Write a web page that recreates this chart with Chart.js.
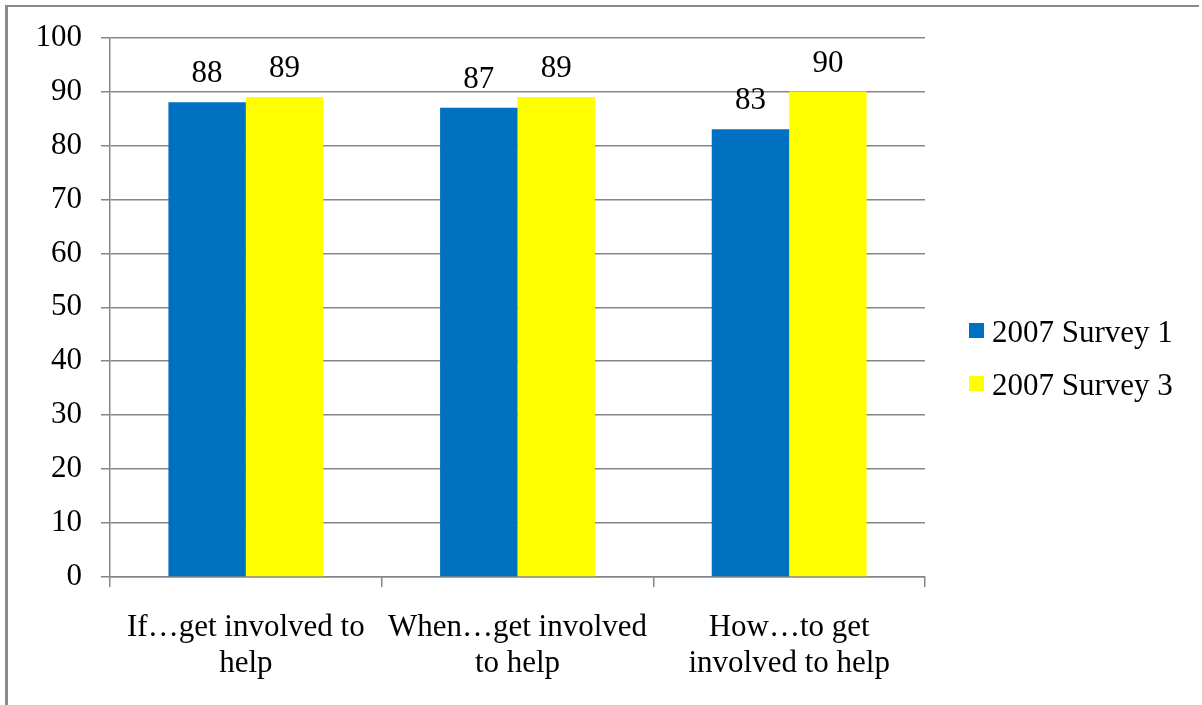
<!DOCTYPE html>
<html>
<head>
<meta charset="utf-8">
<script src="https://cdn.jsdelivr.net/npm/chart.js@4/dist/chart.umd.min.js"></script>
<style>
  html, body { margin: 0; padding: 0; background: #fff; width: 1202px; height: 705px; overflow: hidden; }
  #wrap { position: absolute; left: 0; top: 0; width: 1202px; height: 705px; }
  canvas { position: absolute; left: 0; top: 0; }
  #frame {
    position: absolute; left: 5px; top: 5px; width: 1194px; height: 700px;
    border-top: 2px solid #8a8a8a; border-left: 3px solid #8a8a8a;
    box-sizing: border-box; pointer-events: none;
  }
</style>
</head>
<body>
<div id="wrap">
  <canvas id="chart" width="1202" height="705"></canvas>
  <div id="frame"></div>
</div>
<script>
// Question categories (each split over two lines under the axis)
const categories = [
  ["If…get involved to", "help"],
  ["When…get involved", "to help"],
  ["How…to get", "involved to help"]
];
const seriesNames = ["2007 Survey 1", "2007 Survey 3"];
const survey1 = [88, 87, 83];
const survey3 = [89, 89, 90];
const seriesColors = ["#0070C0", "#FFFF00"];
const yMin = 0, yMax = 100, yStep = 10;

const FONT = "'Liberation Serif', 'Times New Roman', serif";
const GRID = "#868686";

// Value labels above each bar
const valueLabels = {
  id: "valueLabels",
  afterDatasetsDraw(chart) {
    const ctx = chart.ctx;
    ctx.save();
    ctx.font = "31px " + FONT;
    ctx.fillStyle = "#000";
    ctx.textAlign = "center";
    ctx.textBaseline = "alphabetic";
    chart.data.datasets.forEach((ds, i) => {
      chart.getDatasetMeta(i).data.forEach((bar, j) => {
        ctx.fillText(String(ds.data[j]), bar.x, bar.y - 20);
      });
    });
    ctx.restore();
  }
};

// Legend on the right side: square swatch + series name
const sideLegend = {
  id: "sideLegend",
  afterDraw(chart) {
    const ctx = chart.ctx;
    ctx.save();
    ctx.font = "31px " + FONT;
    ctx.textAlign = "left";
    ctx.textBaseline = "alphabetic";
    chart.data.datasets.forEach((ds, i) => {
      const top = 323 + i * 53;
      ctx.fillStyle = ds.backgroundColor;
      ctx.fillRect(969, top, 15, 15);
      ctx.fillStyle = "#000";
      ctx.fillText(ds.label, 992, top + 19);
    });
    ctx.restore();
  }
};

new Chart(document.getElementById("chart"), {
  type: "bar",
  data: {
    labels: categories,
    datasets: [
      { label: seriesNames[0], data: survey1, backgroundColor: seriesColors[0] },
      { label: seriesNames[1], data: survey3, backgroundColor: seriesColors[1] }
    ]
  },
  options: {
    responsive: false,
    animation: false,
    devicePixelRatio: 1,
    categoryPercentage: 0.57,
    barPercentage: 1.0,
    layout: { padding: { left: 0, top: 37, right: 277, bottom: 0 } },
    plugins: {
      legend: { display: false },
      tooltip: { enabled: false }
    },
    scales: {
      x: {
        grid: { drawOnChartArea: false, drawTicks: true, tickLength: 10, color: GRID, lineWidth: 1.5 },
        border: { color: GRID, width: 1.5 },
        ticks: {
          color: "#000",
          font: { family: FONT, size: 31, lineHeight: 1.16 },
          padding: 23,
          maxRotation: 0,
          autoSkip: false
        },
        afterFit(scale) { scale.height = 705 - 577; }
      },
      y: {
        min: yMin,
        max: yMax,
        grid: { color: GRID, lineWidth: 1.5, tickLength: 9 },
        border: { color: GRID, width: 1.5 },
        ticks: {
          stepSize: yStep,
          color: "#000",
          font: { family: FONT, size: 31 },
          padding: 19
        },
        afterFit(scale) { scale.width = 110; }
      }
    }
  },
  plugins: [valueLabels, sideLegend]
});
</script>
</body>
</html>
